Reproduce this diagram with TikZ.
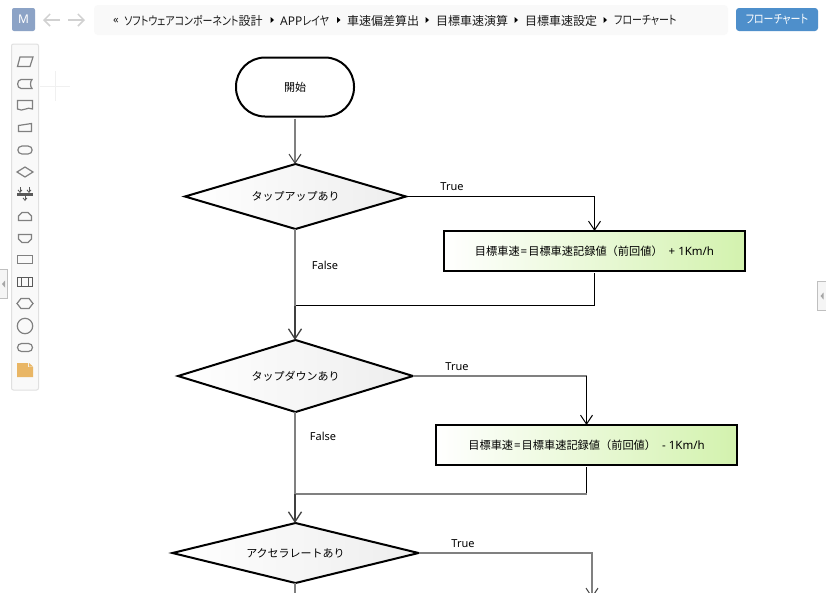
\documentclass[tikz,border=0pt]{standalone}
\usepackage{fontspec}
\setmainfont{Noto Sans}
\newfontfamily\cjk{Noto Sans CJK JP}
\newfontfamily\cjkn[RawFeature=+palt,FakeStretch=0.83]{Noto Sans CJK JP}
\usetikzlibrary{arrows.meta,shapes.geometric}
\definecolor{panelgray}{HTML}{F9F9F9}
\definecolor{panelline}{HTML}{E0E0E0}
\definecolor{icongray}{HTML}{808080}
\definecolor{procgreen}{HTML}{D3F2AE}
\definecolor{crumbblue}{HTML}{4E8FCB}
\definecolor{userblue}{HTML}{8CA3C6}
\definecolor{noteorange}{HTML}{E9B665}
\tikzset{
  uitext/.style={font=\fontsize{12}{14}\selectfont\cjk, text=black!90, anchor=west, inner sep=0},
  startbox/.style={draw=black, line width=2pt, rounded corners=29pt, minimum width=118pt, minimum height=59pt, inner sep=0, outer sep=0, fill=white, font=\fontsize{11}{13}\selectfont\cjk},
  choicebox/.style={diamond, draw=black, line width=2pt, inner sep=0, outer sep=0, left color=white, right color=black!7, font=\fontsize{11}{13}\selectfont\cjk},
  procbox/.style={draw=black, line width=2.4pt, minimum width=301pt, minimum height=40pt, inner sep=0, outer sep=0, left color=white, right color=procgreen, font=\fontsize{11.5}{13}\selectfont},
  flowlabel/.style={font=\fontsize{11}{13}\selectfont, inner sep=0},
  flowline/.style={line width=1pt, draw=black},
  softline/.style={line width=1.8pt, draw=black!50},
  flowarrow/.style={line width=1pt, draw=black, -{Straight Barb[length=9pt, width=12pt, line width=1pt]}},
  softarrow/.style={line width=1.8pt, draw=black!50, -{Straight Barb[black!75, length=9pt, width=12pt, line width=1pt]}},
  mainarrow/.style={line width=1.8pt, draw=black!75, -{Straight Barb[length=10pt, width=13pt, line width=1.3pt]}},
  icon/.style={draw=icongray, line width=1.2pt},
  handle/.style={draw=black!25, fill=black!4, line width=1pt},
}
\newcommand{\calctext}[1]{{\fontsize{11.2}{13}\selectfont\cjk 目標車速\hspace{1pt}}={\fontsize{11.2}{13}\selectfont\cjk\hspace{1pt}目標車速記録値（前回値）}\ \ #1}
\begin{document}
\begin{tikzpicture}[x=1pt, y=-1pt]
  \path[use as bounding box, clip] (0,0) rectangle (826,592);
  \fill[white] (0,0) rectangle (826,592);

  \node[draw=none, fill=userblue, rounded corners=2pt, minimum width=23pt, minimum height=23pt, inner sep=0, text=white, font=\fontsize{12}{14}\selectfont] (user) at (23.5,19.5) {M};
  \draw[black!18, line width=1.5pt, -{Straight Barb[length=6pt, width=12pt]}] (60,20) -- (43,20);
  \draw[black!18, line width=1.5pt, -{Straight Barb[length=6pt, width=12pt]}] (68,20) -- (85,20);
  \fill[panelgray, rounded corners=4pt] (94,5) rectangle (728,35);
  \node[uitext] (crumb0) at (113,20.5) {\fontsize{11}{13}\selectfont\rmfamily «};
  \node[uitext] (crumb1) at (124,20.5) {{\cjkn ソフトウェアコンポーネント}設計};
  \node[uitext] (crumb2) at (280,20.5) {{\rmfamily APP}{\cjkn レイヤ}};
  \node[uitext] (crumb3) at (347,20.5) {車速偏差算出};
  \node[uitext] (crumb4) at (436,20.5) {目標車速演算};
  \node[uitext] (crumb5) at (525,20.5) {目標車速設定};
  \node[uitext] (crumb6) at (614,20.5) {\cjkn フローチャート};
  \fill[black] (270.5,17) -- (274,20) -- (270.5,23) -- cycle;
  \fill[black] (337,17) -- (340.5,20) -- (337,23) -- cycle;
  \fill[black] (425.5,17) -- (429,20) -- (425.5,23) -- cycle;
  \fill[black] (514.5,17) -- (518,20) -- (514.5,23) -- cycle;
  \fill[black] (603.5,17) -- (607,20) -- (603.5,23) -- cycle;
  \node[fill=crumbblue, rounded corners=3pt, minimum width=82pt, minimum height=23pt, inner sep=0, text=white, font=\fontsize{12}{14}\selectfont\cjkn] (chartbtn) at (777,19.5) {フローチャート};

  \draw[black!6, line width=1pt] (40,86.5) -- (70,86.5);
  \draw[black!6, line width=1pt] (55.5,71) -- (55.5,101);

  \draw[panelline, fill=panelgray, line width=1pt, rounded corners=2pt] (11.5,44) rectangle (38.5,390);
  \draw[icon] (20,57) -- (33,57) -- (30,66.5) -- (17.5,66.5) -- cycle;
  \draw[icon] (32,79.5) -- (21,79.5) .. controls (16.5,80) and (16.5,88) .. (21,88.5) -- (32,88.5) .. controls (30,86) and (30,82) .. (32,79.5) -- cycle;
  \draw[icon] (17.5,100.5) -- (32.5,100.5) -- (32.5,109) .. controls (27,106) and (23,112.5) .. (17.5,109) -- cycle;
  \draw[icon] (18.5,125.5) -- (31.5,123.5) -- (31.5,131.5) -- (18.5,131.5) -- cycle;
  \draw[icon] (22,146) -- (28,146) .. controls (33.5,146) and (33.5,154) .. (28,154) -- (22,154) .. controls (16.5,154) and (16.5,146) .. (22,146) -- cycle;
  \draw[icon] (25,167) -- (33,172) -- (25,177) -- (17,172) -- cycle;
  \fill[black!65] (17,193) rectangle (33,196);
  \draw[black!65, line width=0.8pt, -{Straight Barb[length=2.5pt, width=4pt]}] (20,187) -- (20,193);
  \draw[black!65, line width=0.8pt, -{Straight Barb[length=2.5pt, width=4pt]}] (29,187) -- (29,193);
  \draw[black!65, line width=0.8pt, -{Straight Barb[length=2.5pt, width=4pt]}] (25,196) -- (25,201);
  \draw[icon] (22,212.5) -- (28,212.5) -- (31.5,216) -- (31.5,220.5) -- (18.5,220.5) -- (18.5,216) -- cycle;
  \draw[icon] (18.5,234.5) -- (31.5,234.5) -- (31.5,239) -- (28,242.5) -- (22,242.5) -- (18.5,239) -- cycle;
  \draw[icon] (17.5,255.5) rectangle (32.5,263.5);
  \draw[black!65, line width=1.2pt] (17.5,277.5) rectangle (32.5,286.5);
  \draw[black!65, line width=1.2pt] (21.5,277.5) -- (21.5,286.5);
  \draw[black!65, line width=1.2pt] (28.5,277.5) -- (28.5,286.5);
  \draw[icon] (21,298.5) -- (29,298.5) -- (33,303.5) -- (29,308.5) -- (21,308.5) -- (17,303.5) -- cycle;
  \draw[icon] (25,326) circle (7.7);
  \draw[icon, rounded corners=4pt] (17.5,343.5) rectangle (32.5,351.5);
  \fill[noteorange] (17,363) -- (28,363) -- (28,367) -- (33,367) -- (33,377) -- (17,377) -- cycle;
  \fill[noteorange] (29,363) -- (33,366.5) -- (29,366.5) -- cycle;

  \draw[handle] (-1,269.5) -- (7.5,269.5) -- (7.5,298.5) -- (-1,298.5);
  \fill[black!35] (2,284) -- (5,280.5) -- (5,287.5) -- cycle;
  \draw[handle] (827,281.5) -- (817.5,281.5) -- (817.5,310.5) -- (827,310.5);
  \fill[black!35] (820.5,296) -- (823.5,292.5) -- (823.5,299.5) -- cycle;

  \node[startbox] (start) at (295,87) {開始};
  \node[choicebox, aspect=3.4, minimum width=221pt, minimum height=65pt] (tapup) at (295.5,196.5) {\raisebox{-0.8pt}{タップアップあり}};
  \node[procbox] (upcalc) at (594.5,251) {\calctext{+ 1Km/h}};
  \node[choicebox, aspect=3.26, minimum width=235pt, minimum height=72pt] (tapdown) at (295.5,376) {\raisebox{-0.8pt}{タップダウンあり}};
  \node[procbox] (downcalc) at (586.5,445) {\calctext{- 1Km/h}};
  \node[choicebox, aspect=4.1, minimum width=246pt, minimum height=60pt] (accel) at (295.5,553) {\raisebox{-0.8pt}{アクセラレートあり}};

  \coordinate (upjoin) at (295,305.5);
  \coordinate (downjoin) at (295,494);
  \coordinate (acceltrue) at (592,598);
  \coordinate (accelfalse) at (295,600);

  \draw[softarrow, shorten <=2pt] (start.south) -- ([xshift=-0.5pt]tapup.north);
  \draw[flowline] (tapup.east) -| (upcalc.north);
  \draw[flowarrow] (594.5,196.5) -- (upcalc.north);
  \draw[flowline, shorten <=2pt] (upcalc.south) |- (upjoin);
  \draw[softline] ([xshift=-0.5pt]tapup.south) -- (upjoin);
  \draw[mainarrow] (upjoin) -- ([xshift=-0.5pt]tapdown.north);
  \draw[softline] (tapdown.east) -- (586.5,376);
  \draw[flowarrow] (586.5,376) -- (downcalc.north);
  \draw[flowline, shorten <=2pt] (downcalc.south) -- (586.5,494);
  \draw[softline] (586.5,494) -- (downjoin);
  \draw[softline] ([xshift=-0.5pt]tapdown.south) -- (downjoin);
  \draw[mainarrow] (downjoin) -- ([xshift=-0.5pt]accel.north);
  \draw[softarrow] (accel.east) -| (acceltrue);
  \draw[softline] ([xshift=-0.5pt]accel.south) -- (accelfalse);

  \node[flowlabel] (truea) at (452,187) {True};
  \node[flowlabel] (falsea) at (325,265.5) {False};
  \node[flowlabel] (trueb) at (457,367) {True};
  \node[flowlabel] (falseb) at (323,436.5) {False};
  \node[flowlabel] (truec) at (463,544) {True};
\end{tikzpicture}
\end{document}
